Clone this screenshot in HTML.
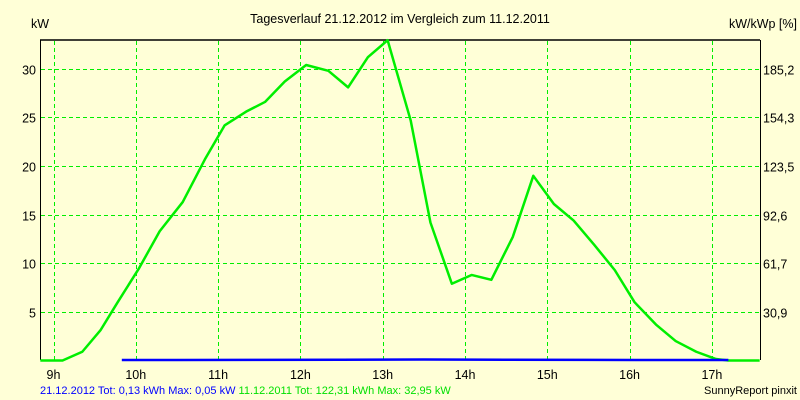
<!DOCTYPE html>
<html><head><meta charset="utf-8"><style>
body{margin:0;background:#ffffd7;}
svg{display:block;font-family:"Liberation Sans",sans-serif;}
</style></head><body>
<svg id="c" width="800" height="400">
<rect width="800" height="400" fill="#ffffd7"/>
<text x="400" y="23" text-anchor="middle" font-size="12.5">Tagesverlauf 21.12.2012 im Vergleich zum 11.12.2011</text>
<text x="31" y="28" font-size="12.5">kW</text>
<text x="797" y="28" text-anchor="end" font-size="12.5">kW/kWp [%]</text>
<g id="grid"></g>
<line x1="40" y1="40" x2="760" y2="40" stroke="#000" stroke-width="1.5"/>
<line x1="40.5" y1="40" x2="40.5" y2="360" stroke="#000"/>
<line x1="760.5" y1="40" x2="760.5" y2="360" stroke="#000"/>
<g id="series"></g>
<text x="40" y="394" font-size="11"><tspan fill="#0000ff">21.12.2012 Tot: 0,13 kWh Max: 0,05 kW</tspan><tspan fill="#00e000"> 11.12.2011 Tot: 122,31 kWh Max: 32,95 kW</tspan></text>
<text x="797" y="394" text-anchor="end" font-size="11">SunnyReport pinxit</text>
</svg>
<script>
const hourTicks=[9,10,11,12,13,14,15,16,17];
const kwTicks=[5,10,15,20,25,30];
const pctTicks=["30,9","61,7","92,6","123,5","154,3","185,2"];
const greenTimes=[8.84,9.11,9.35,9.57,9.78,10.04,10.29,10.57,10.84,11.08,11.34,11.57,11.81,12.07,12.34,12.58,12.82,13.06,13.34,13.58,13.84,14.08,14.32,14.58,14.83,15.08,15.32,15.57,15.82,16.06,16.32,16.56,16.81,17.05,17.2,17.58];
const greenKw=[0,0,0.9,3.1,6.0,9.5,13.3,16.3,20.7,24.2,25.6,26.6,28.7,30.4,29.8,28.1,31.2,32.95,24.7,14.2,7.9,8.8,8.3,12.7,19.0,16.1,14.4,11.9,9.3,6.0,3.7,2.0,0.9,0.15,0,0];
const blueTimes=[9.83,10.5,11.5,12.5,13.5,14.5,15.5,16.5,17.2];
const blueKw=[0,0,0.01,0.03,0.05,0.02,0.01,0,0];
const ns="http://www.w3.org/2000/svg";
const X=h=>53.5+(h-9)*82.3;
const Y=v=>360.5-v*9.72;
const svg=document.getElementById('c'),grid=document.getElementById('grid'),ser=document.getElementById('series');
function mk(tag,attrs,parent){const e=document.createElementNS(ns,tag);for(const k in attrs)e.setAttribute(k,attrs[k]);parent.appendChild(e);return e;}
hourTicks.forEach(h=>{
  const l=mk('line',{x1:Math.round(X(h))+0.5,x2:Math.round(X(h))+0.5,y1:41,y2:360,stroke:'#00ee00','stroke-dasharray':'4,3'},grid);
  
  
  const t=mk('text',{x:X(h),y:379,'text-anchor':'middle','font-size':'12.5'},svg);
  t.textContent=h+'h';
  
  
});
kwTicks.forEach((v,i)=>{
  const y=Math.round(Y(v))+0.5;
  const l=mk('line',{x1:41,x2:760,y1:y,y2:y,stroke:'#00ee00','stroke-dasharray':'4,3'},grid);
  
  
  const t=mk('text',{x:36,y:y+5,'text-anchor':'end','font-size':'12.5'},svg);
  t.textContent=v;
  
  
  const r=mk('text',{x:763,y:y+5,'font-size':'12.5'},svg);
  r.textContent=pctTicks[i];
  
  
});
const g=mk('polyline',{points:greenTimes.map((t,i)=>X(t)+','+Y(greenKw[i])).join(' '),fill:'none',stroke:'#00ee00','stroke-width':2.5,'stroke-linejoin':'round'},ser);


const b=mk('polyline',{points:blueTimes.map((t,i)=>X(t)+','+(Y(blueKw[i])-0.5)).join(' '),fill:'none',stroke:'#0000ff','stroke-width':2.5},ser);


</script>
</body></html>
